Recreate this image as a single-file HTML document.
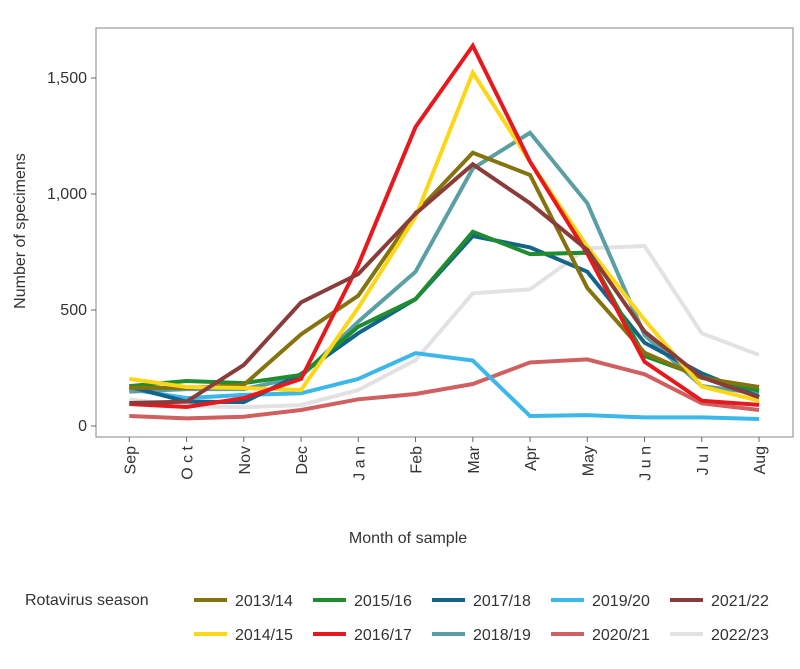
<!DOCTYPE html>
<html><head><meta charset="utf-8"><style>
body{margin:0;background:#fff;font-family:"Liberation Sans",sans-serif;}
svg text{font-family:"Liberation Sans",sans-serif;fill:#333;}
</style></head><body>
<svg id="chart" width="800" height="664" xmlns="http://www.w3.org/2000/svg"></svg>
<script>
const months=["Sep","O c t","Nov","Dec","J a n","Feb","Mar","Apr","May","J u n","J u l","Aug"];
const seasons=["2013/14","2014/15","2015/16","2016/17","2017/18","2018/19","2019/20","2020/21","2021/22","2022/23"];
const colors=["#85730f","#fdd615","#1f8c2f","#e8191e","#13648a","#5a9fa3","#3bb7ea","#d05f60","#8a3c3a","#e2e2e2"];
const s1314=[165,164,177,395,562,918,1178,1082,595,316,207,168];
const s1415=[203,168,164,155,510,902,1523,1139,773,457,170,109];
const s1516=[172,194,185,220,428,547,837,741,747,302,213,152];
const s1617=[95,82,120,203,694,1289,1639,1139,743,277,109,91];
const s1718=[170,105,103,224,400,547,819,770,665,359,227,126];
const s1819=[148,159,159,213,450,665,1110,1264,960,392,172,141];
const s1920=[159,120,134,141,203,314,282,43,47,37,37,30];
const s2021=[43,33,40,69,115,138,181,274,287,223,98,69];
const s2122=[99,105,263,533,655,915,1128,960,759,407,210,124];
const s2223=[115,86,81,90,155,284,572,589,766,776,400,306];
const series=[s1314,s1415,s1516,s1617,s1718,s1819,s1920,s2021,s2122,s2223];
const drawOrder=[9,7,6,5,4,2,0,1,3,8];
const yTicks=[0,500,1000,1500];
const yTickLabels=["0","500","1,000","1,500"];
const NS="http://www.w3.org/2000/svg";
const svg=document.getElementById("chart");
const X=i=>129.3+i*57.25;
const Y=v=>426-v*0.232;
function el(t,a,p){const e=document.createElementNS(NS,t);for(const k in a)e.setAttribute(k,a[k]);(p||svg).appendChild(e);return e;}
const frame=el("rect",{x:96,y:28,width:697,height:409,fill:"none",stroke:"#999","stroke-width":1.2});


yTicks.forEach((v,i)=>{
  const tk=el("line",{x1:91,x2:96,y1:Y(v),y2:Y(v),stroke:"#666"});
  
  
  const t=el("text",{x:87,y:Y(v)+5,"text-anchor":"end","font-size":16});
  t.textContent=yTickLabels[i];
  
  
});
months.forEach((m,i)=>{
  const tk=el("line",{x1:X(i),x2:X(i),y1:437,y2:442,stroke:"#666"});
  
  
  const t=el("text",{x:0,y:0,"text-anchor":"end","font-size":16,transform:`translate(${X(i)+6},446) rotate(-90)`});
  t.textContent=m;
  
  
});
drawOrder.forEach(k=>{
  const pts=series[k].map((v,i)=>X(i)+","+Y(v)).join(" ");
  const p=el("polyline",{points:pts,fill:"none",stroke:colors[k],"stroke-width":4,"stroke-linejoin":"miter"});
  
  
});
const yt=el("text",{x:0,y:0,"text-anchor":"middle","font-size":16,transform:"translate(25,231) rotate(-90)"});
yt.textContent="Number of specimens";


const xt=el("text",{x:408,y:543,"text-anchor":"middle","font-size":16});
xt.textContent="Month of sample";


const lt=el("text",{x:25,y:605,"font-size":16});
lt.textContent="Rotavirus season";


seasons.forEach((s,k)=>{
  const col=Math.floor(k/2),row=k%2;
  const x=194+col*119,y=600+row*34;
  const g=el("g",{});
  
  
  el("line",{x1:x,x2:x+33,y1:y,y2:y,stroke:colors[k],"stroke-width":4},g);
  const t=el("text",{x:x+41,y:y+6,"font-size":16},g);
  t.textContent=s;
});
</script>
</body></html>
